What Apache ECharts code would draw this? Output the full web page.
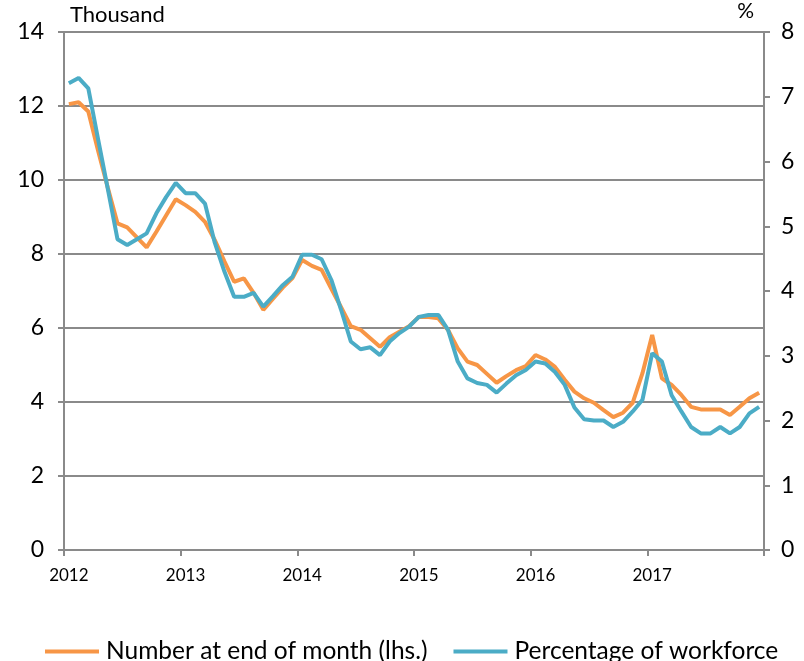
<!DOCTYPE html>
<html>
<head>
<meta charset="utf-8">
<script src="https://cdn.jsdelivr.net/npm/echarts@6/dist/echarts.min.js"></script>
<style>
html,body{margin:0;padding:0;background:#fff;}
#chart{width:804px;height:661px;}
</style>
</head>
<body>
<div id="chart"></div>
<script>
const years = ['2012','2013','2014','2015','2016','2017'];
const monthsPerYear = 12;

// Number of unemployed at end of month, thousand (lhs)
const numberAtEndOfMonth = [
  12.05, 12.1, 11.85, 10.8, 9.8, 8.83, 8.72, 8.45, 8.18, 8.6, 9.04, 9.48,
  9.32, 9.14, 8.87, 8.38, 7.8, 7.25, 7.34, 6.95, 6.49, 6.79, 7.09, 7.35,
  7.84, 7.68, 7.57, 7.06, 6.56, 6.05, 5.95, 5.72, 5.49, 5.75, 5.9, 6.05,
  6.3, 6.3, 6.26, 5.95, 5.45, 5.09, 5.0, 4.76, 4.52, 4.7, 4.86, 4.97,
  5.27, 5.15, 4.95, 4.6, 4.28, 4.1, 3.98, 3.78, 3.59, 3.71, 3.98, 4.78,
  5.81, 4.64, 4.46, 4.19, 3.87, 3.8, 3.8, 3.8, 3.65, 3.87, 4.1, 4.25
];

// Percentage of workforce (rhs)
const percentageOfWorkforce = [
  7.21, 7.29, 7.13, 6.35, 5.58, 4.8, 4.71, 4.8, 4.89, 5.2, 5.45, 5.67,
  5.51, 5.51, 5.35, 4.75, 4.3, 3.91, 3.91, 3.97, 3.76, 3.92, 4.09, 4.22,
  4.56, 4.56, 4.49, 4.17, 3.71, 3.22, 3.1, 3.13, 3.01, 3.22, 3.35, 3.45,
  3.6, 3.63, 3.63, 3.4, 2.91, 2.65, 2.58, 2.55, 2.43, 2.57, 2.7, 2.78,
  2.91, 2.88, 2.75, 2.55, 2.2, 2.02, 2.0, 2.0, 1.9, 1.98, 2.14, 2.32,
  3.04, 2.91, 2.39, 2.14, 1.9, 1.8, 1.8, 1.9, 1.8, 1.9, 2.11, 2.21
];

const seriesNames = ['Number at end of month (lhs.)', 'Percentage of workforce'];
const leftAxisName = 'Thousand';
const rightAxisName = '%';

const categories = [];
years.forEach(y => {
  for (let m = 1; m <= monthsPerYear; m++) {
    categories.push(y + '-' + (m < 10 ? '0' + m : m));
  }
});

const FONT = 'Lato';
const GRID_COLOR = '#8a8a8a';
const ORANGE = '#F79646';
const BLUE = '#4BACC6';

const chart = echarts.init(document.getElementById('chart'), null, {renderer: 'canvas'});
chart.setOption({
  animation: false,
  backgroundColor: '#ffffff',
  grid: {left: 64, right: 40, top: 32, bottom: 111, containLabel: false},
  legend: {
    bottom: -8,
    left: 40,
    itemWidth: 54,
    itemHeight: 4,
    itemGap: 26,
    icon: 'rect',
    textStyle: {fontFamily: FONT, fontSize: 24.5, color: '#000', padding: [0, 0, 0, 2]},
    data: seriesNames
  },
  xAxis: {
    type: 'category',
    data: categories,
    boundaryGap: true,
    axisLine: {lineStyle: {color: GRID_COLOR, width: 2}},
    axisTick: {show: true, interval: 11, length: 6, lineStyle: {color: GRID_COLOR, width: 2}},
    axisLabel: {
      interval: 11,
      margin: 17,
      fontFamily: FONT,
      fontSize: 17,
      color: '#000',
      formatter: v => v.slice(0, 4)
    },
    splitLine: {show: false}
  },
  yAxis: [
    {
      type: 'value',
      min: 0, max: 14, interval: 2,
      position: 'left',
      name: leftAxisName,
      nameLocation: 'end',
      nameGap: 6,
      nameTextStyle: {fontFamily: FONT, fontSize: 22, color: '#000', align: 'left', padding: [0, 0, 0, 6]},
      axisLine: {show: true, lineStyle: {color: GRID_COLOR, width: 2}},
      axisTick: {show: true, length: 6, lineStyle: {color: GRID_COLOR, width: 2}},
      axisLabel: {fontFamily: FONT, fontSize: 23, color: '#000', margin: 20},
      splitLine: {show: true, lineStyle: {color: GRID_COLOR, width: 2}}
    },
    {
      type: 'value',
      min: 0, max: 8, interval: 1,
      position: 'right',
      name: rightAxisName,
      nameLocation: 'end',
      nameGap: 10,
      nameTextStyle: {fontFamily: FONT, fontSize: 21, color: '#000', align: 'right', padding: [0, 10, 0, 0]},
      axisLine: {show: true, lineStyle: {color: GRID_COLOR, width: 2}},
      axisTick: {show: true, length: 6, lineStyle: {color: GRID_COLOR, width: 2}},
      axisLabel: {fontFamily: FONT, fontSize: 23, color: '#000', margin: 17},
      splitLine: {show: false}
    }
  ],
  series: [
    {
      name: seriesNames[0],
      type: 'line',
      yAxisIndex: 0,
      data: numberAtEndOfMonth,
      showSymbol: false,
      symbol: 'none',
      lineStyle: {color: ORANGE, width: 4},
      itemStyle: {color: ORANGE}
    },
    {
      name: seriesNames[1],
      type: 'line',
      yAxisIndex: 1,
      data: percentageOfWorkforce,
      showSymbol: false,
      symbol: 'none',
      lineStyle: {color: BLUE, width: 4},
      itemStyle: {color: BLUE}
    }
  ]
});
</script>
</body>
</html>
